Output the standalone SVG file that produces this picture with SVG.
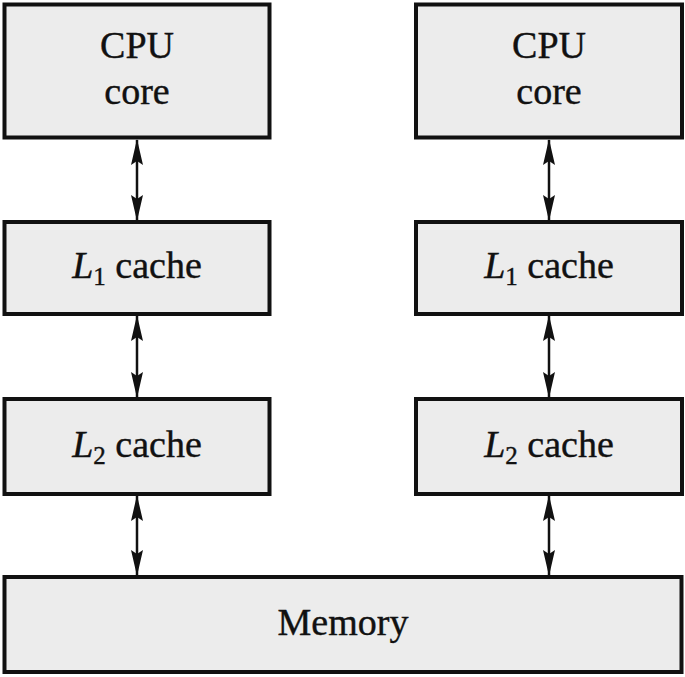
<svg xmlns="http://www.w3.org/2000/svg" width="685" height="677" viewBox="0 0 685 677">
<style>
.box{fill:#ececec;stroke:#111;stroke-width:4}
.lbl{font-family:"Liberation Serif","Times New Roman",serif;font-size:38px;fill:#111;stroke:#111;stroke-width:0.4;text-anchor:middle}
.it{font-style:italic}
.sub{font-size:25px}
.con{stroke:#111;stroke-width:2.5;fill:none;marker-start:url(#ah);marker-end:url(#ah)}
</style>
<defs>
<marker id="ah" viewBox="0 0 26 12" refX="25" refY="6" markerWidth="26" markerHeight="12" markerUnits="userSpaceOnUse" orient="auto-start-reverse">
<path d="M0,0 L26,6 L0,12 L4,6 Z" fill="#111"/>
</marker>
</defs>
<g id="cpu1"><rect class="box" x="4.5" y="4.5" width="265" height="133"/><text class="lbl" x="137" y="58">CPU</text><text class="lbl" x="137" y="104">core</text></g>
<g id="cpu2"><rect class="box" x="416" y="4.5" width="266" height="133"/><text class="lbl" x="549" y="58">CPU</text><text class="lbl" x="549" y="104">core</text></g>
<g id="l1a"><rect class="box" x="4.5" y="222" width="265" height="92"/><text class="lbl" x="137" y="278"><tspan class="it">L</tspan><tspan class="sub" dy="7">1</tspan><tspan dy="-7"> cache</tspan></text></g>
<g id="l1b"><rect class="box" x="416" y="222" width="266" height="92"/><text class="lbl" x="549" y="278"><tspan class="it">L</tspan><tspan class="sub" dy="7">1</tspan><tspan dy="-7"> cache</tspan></text></g>
<g id="l2a"><rect class="box" x="4.5" y="399" width="265" height="95"/><text class="lbl" x="137" y="457"><tspan class="it">L</tspan><tspan class="sub" dy="7">2</tspan><tspan dy="-7"> cache</tspan></text></g>
<g id="l2b"><rect class="box" x="416" y="399" width="266" height="95"/><text class="lbl" x="549" y="457"><tspan class="it">L</tspan><tspan class="sub" dy="7">2</tspan><tspan dy="-7"> cache</tspan></text></g>
<g id="mem"><rect class="box" x="4.5" y="577" width="677" height="95"/><text class="lbl" x="343" y="635">Memory</text></g>
<g id="connectors">
<line class="con" x1="137" y1="140" x2="137" y2="220"/>
<line class="con" x1="549" y1="140" x2="549" y2="220"/>
<line class="con" x1="137" y1="316" x2="137" y2="397"/>
<line class="con" x1="549" y1="316" x2="549" y2="397"/>
<line class="con" x1="137" y1="496" x2="137" y2="575"/>
<line class="con" x1="549" y1="496" x2="549" y2="575"/>
</g>
</svg>
